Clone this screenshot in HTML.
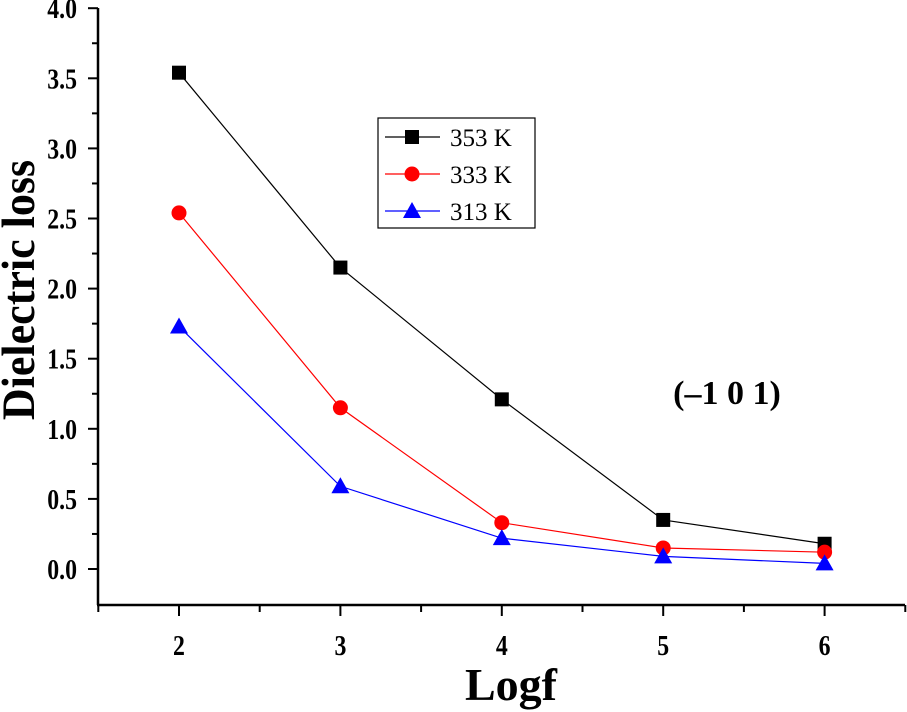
<!DOCTYPE html>
<html><head><meta charset="utf-8"><style>
html,body{margin:0;padding:0;background:#fff;}
svg{display:block;font-family:"Liberation Serif",serif;}
</style></head><body>
<svg id="chart" width="907" height="712" viewBox="0 0 907 712" xmlns="http://www.w3.org/2000/svg">
<g id="axes"></g>
<g id="series"></g>
<g>
<rect x="378" y="118" width="157" height="110" fill="#fff" stroke="#000" stroke-width="1.2"/>
<g id="legend-items"></g>
</g>
<text x="727" y="404" font-size="34" font-weight="bold" text-anchor="middle">(–1 0 1)</text>
<text transform="translate(34,290) rotate(-90) scale(1,1.05)" font-size="44" font-weight="bold" text-anchor="middle">Dielectric loss</text>
<text x="511" y="700" font-size="46" font-weight="bold" text-anchor="middle">Logf</text>
</svg>
<script>
const categories=[2,3,4,5,6];
const s353=[3.54,2.15,1.21,0.35,0.18];
const s333=[2.54,1.15,0.33,0.15,0.12];
const s313=[1.73,0.59,0.22,0.09,0.04];
const yTicks=["0.0","0.5","1.0","1.5","2.0","2.5","3.0","3.5","4.0"];
const xTicks=["2","3","4","5","6"];
const seriesNames=["353 K","333 K","313 K"];
const NS="http://www.w3.org/2000/svg";
const X=v=>179+(v-2)*161.4;
const Y=v=>569-v*140.2;
function mk(tag,at,parent){const e=document.createElementNS(NS,tag);for(const k in at)e.setAttribute(k,at[k]);parent.appendChild(e);return e;}
const axes=document.getElementById('axes');
let a=mk('line',{x1:98,y1:8,x2:98,y2:605,stroke:'#000','stroke-width':2.5},axes);


a=mk('line',{x1:97,y1:605,x2:905,y2:605,stroke:'#000','stroke-width':2.5},axes);


yTicks.forEach((t,i)=>{const v=parseFloat(t);const y=Y(v);
 mk('line',{x1:88,y1:y,x2:98,y2:y,stroke:'#000','stroke-width':2},axes);
 if(i<yTicks.length-1) mk('line',{x1:92,y1:Y(v+0.25),x2:98,y2:Y(v+0.25),stroke:'#000','stroke-width':2},axes);
 const tx=mk('text',{x:0,y:0,'font-size':28,'font-weight':'bold','text-anchor':'end',transform:`translate(77,${y+10}) scale(0.85,1)`},axes);tx.textContent=t;
 
 
});
xTicks.forEach(t=>{const v=parseFloat(t);const x=X(v);
 mk('line',{x1:x,y1:605,x2:x,y2:616,stroke:'#000','stroke-width':2},axes);
 const tx=mk('text',{x:0,y:0,'font-size':28,'font-weight':'bold','text-anchor':'middle',transform:`translate(${x},${655}) scale(0.85,1)`},axes);tx.textContent=t;
 
 
});
[1.5,2.5,3.5,4.5,5.5,6.5].forEach(v=>{const x=X(v);if(x<906)mk('line',{x1:x,y1:605,x2:x,y2:612,stroke:'#000','stroke-width':2},axes);});
const ser=document.getElementById('series');
const colors=['#000','#ff0000','#0000ff'];
const shapes=['square','circle','triangle'];
function marker(shape,x,y,c,p){
 if(shape==='square')return mk('rect',{x:x-7,y:y-7,width:14,height:14,fill:c},p);
 if(shape==='circle')return mk('circle',{cx:x,cy:y,r:7.5,fill:c},p);
 return mk('polygon',{points:`${x},${y-9} ${x-9},${y+7} ${x+9},${y+7}`,fill:c},p);
}
[s353,s333,s313].forEach((d,si)=>{
 const g=mk('g',{},ser);
 
 
 const pl=mk('polyline',{points:d.map((v,i)=>X(categories[i])+','+Y(v)).join(' '),fill:'none',stroke:colors[si],'stroke-width':1.2},g);
 
 
 d.forEach((v,i)=>{const m=marker(shapes[si],X(categories[i]),Y(v),colors[si],g);
  
  });
});
const li=document.getElementById('legend-items');
seriesNames.forEach((n,i)=>{const y=137+i*37;
 const g=mk('g',{},li);
 
 
 mk('line',{x1:385,y1:y,x2:440,y2:y,stroke:colors[i],'stroke-width':1.2},g);
 marker(shapes[i],412,y,colors[i],g);
 const t=mk('text',{x:450,y:y+9,'font-size':25},g);t.textContent=n;
});
</script>
</body></html>
